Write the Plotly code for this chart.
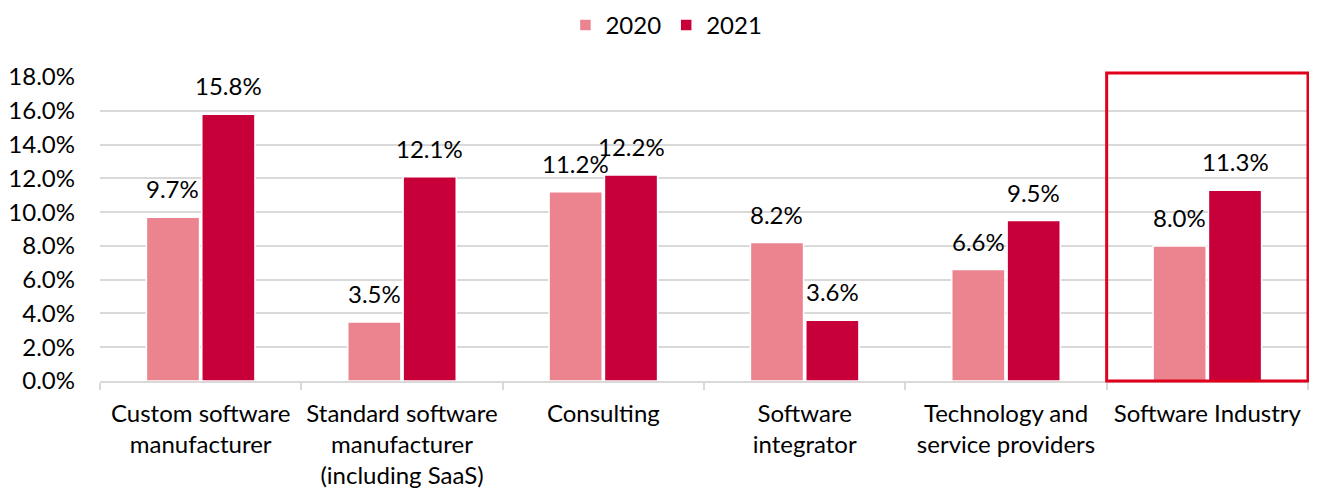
import plotly.graph_objects as go

categories = [
    "Custom software<br>manufacturer",
    "Standard software<br>manufacturer<br>(including SaaS)",
    "Consulting",
    "Software<br>integrator",
    "Technology and<br>service providers",
    "Software Industry",
]
values_2020 = [9.7, 3.5, 11.2, 8.2, 6.6, 8.0]
values_2021 = [15.8, 12.1, 12.2, 3.6, 9.5, 11.3]
series_names = ["2020", "2021"]
colors = ["#EC8490", "#C8003A"]
y_ticks = [0, 2, 4, 6, 8, 10, 12, 14, 16, 18]
highlight_index = 5

FONT = "Lato"
FS = 24
W, H = 1309, 482
ML, MR, MT, MB = 92, 9, 69, 109
BARGAP = 0.45

fig = go.Figure()
series = [values_2020, values_2021]
for name, vals, col in zip(series_names, series, colors):
    fig.add_trace(go.Bar(
        name=name, x=categories, y=vals,
        marker=dict(color=col, line=dict(color="white", width=1.5)),
    ))

# data labels above bars (Excel-style padding)
n = len(categories)
cat_px = (W - ML - MR) / n
slot_px = cat_px * (1 - BARGAP) / len(series)
for si, vals in enumerate(series):
    offset = (si - (len(series) - 1) / 2) * slot_px
    for c, v in zip(categories, vals):
        fig.add_annotation(x=c, y=v, xref="x", yref="y", text=f"{v:.1f}%",
                           showarrow=False, xanchor="center", yanchor="bottom",
                           xshift=offset, yshift=12,
                           font=dict(size=FS, family=FONT, color="#000000"))

fig.add_shape(type="rect", xref="paper", yref="paper",
              x0=highlight_index / n, x1=(highlight_index + 1) / n, y0=0, y1=1.013,
              line=dict(color="#E0001B", width=3), fillcolor="rgba(0,0,0,0)", layer="above")

fig.update_layout(
    width=W, height=H,
    margin=dict(l=ML, r=MR, t=MT, b=MB),
    paper_bgcolor="white", plot_bgcolor="white",
    font=dict(family=FONT, size=FS, color="#000000"),
    barmode="group", bargap=BARGAP, bargroupgap=0.04,
    showlegend=True,
    legend=dict(orientation="h", xref="container", yref="container", x=0.503, y=0.964,
                xanchor="center", yanchor="middle", font=dict(size=FS, family=FONT),
                itemwidth=30, traceorder="normal"),
)
fig.update_xaxes(showline=True, linecolor="#D9D9D9", linewidth=1.5, ticks="outside",
                 tickson="boundaries", ticklen=7, tickcolor="#D9D9D9", tickwidth=1.5,
                 ticklabelstandoff=10,
                 tickfont=dict(size=FS, family=FONT), showgrid=False, automargin=False)
fig.update_yaxes(range=[0, 18], tickvals=y_ticks, ticktext=[f"{v:.1f}%" for v in y_ticks],
                 showgrid=True, gridcolor="#D9D9D9", gridwidth=1.5, zeroline=False,
                 showline=False, ticklabelstandoff=24, tickfont=dict(size=FS, family=FONT),
                 automargin=False)

fig.write_html("out.html")
